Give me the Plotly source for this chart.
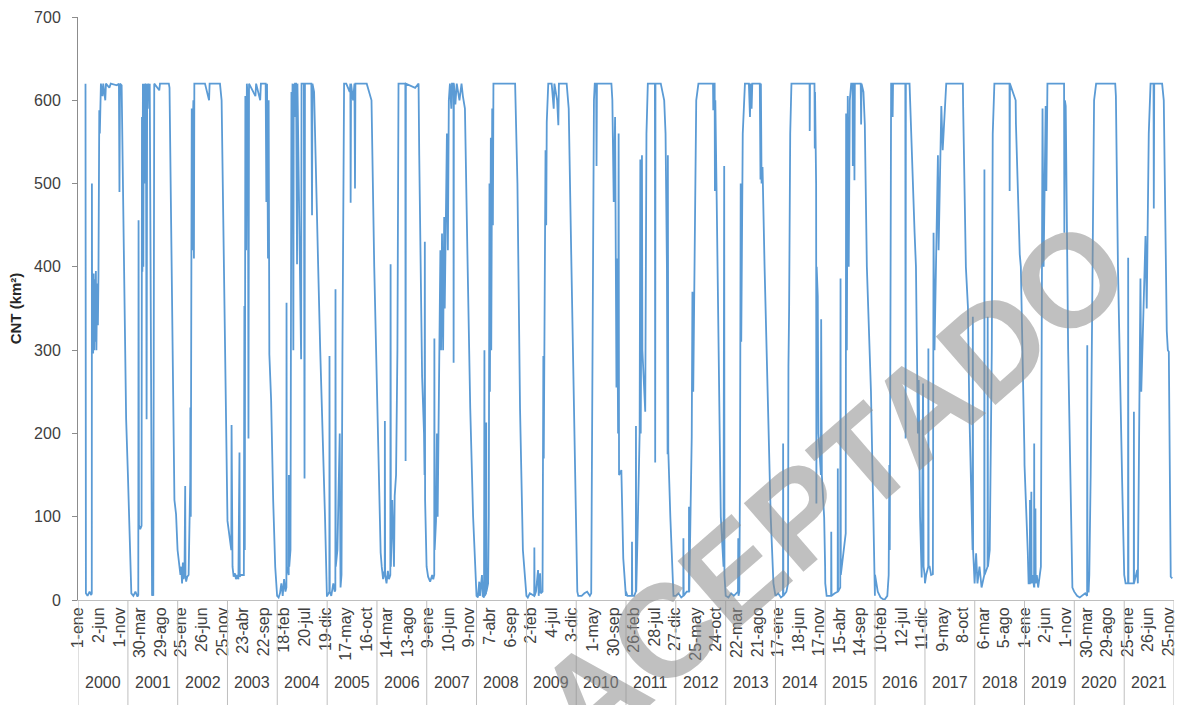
import datetime as dt
import plotly.graph_objects as go

# Snow-covered area (CNT, km2): (day offset from 1 Jan, value)
y2000 = [(55,620),(58,8),(70,5),(85,10),(97,6),(101,8),(102,500),(104,300),(108,390),(111,296),(115,392),(119,300),(123,385),(127,310),(131,395),(135,300),(140,380),(146,330),(150,390),(156,588),(160,560),(168,620),(180,605),(185,620),(200,600),(205,620),(230,615),(240,620),(285,618),(300,620),(304,490),(308,620),(320,618),(336,420),(353,217)]
y2001 = [(0,150),(17,32),(25,8),(40,5),(55,10),(70,4),(76,6),(78,456),(81,90),(90,85),(100,89),(103,580),(106,394),(110,620),(113,400),(116,620),(120,500),(124,620),(128,560),(132,620),(137,217),(141,620),(146,590),(150,620),(155,600),(160,620),(170,300),(177,5),(182,10),(186,5),(193,620),(230,612),(235,620),(300,620),(305,615),(341,120),(353,103),(364,60)]
y2002 = [(0,60),(12,45),(20,30),(26,40),(32,20),(38,45),(44,25),(50,35),(55,137),(57,30),(62,22),(70,28),(80,30),(92,143),(93,231),(96,100),(103,590),(106,420),(110,560),(115,600),(119,410),(122,620),(200,620),(230,600),(234,620),(310,620),(322,600),(340,400),(364,100)]
y2003 = [(0,95),(24,65),(28,60),(30,210),(32,60),(37,40),(45,28),(55,32),(62,25),(70,30),(80,25),(88,177),(90,28),(97,30),(120,30),(124,353),(127,60),(131,605),(137,420),(142,620),(150,600),(154,194),(158,620),(205,605),(210,620),(240,600),(245,620),(280,620),(285,478),(290,620),(297,410),(302,600),(307,295),(320,240),(335,120),(350,40),(364,5)]
y2004 = [(0,5),(10,3),(20,8),(30,20),(40,5),(50,25),(60,10),(67,15),(68,357),(70,40),(84,30),(85,150),(88,40),(97,60),(104,610),(108,520),(112,620),(118,300),(121,620),(126,580),(130,620),(138,620),(145,403),(148,620),(175,289),(178,620),(195,620),(200,146),(203,620),(220,620),(250,620),(255,462),(258,620),(270,610),(278,560),(285,520),(300,400),(315,300),(335,200),(350,100),(364,5)]
y2005 = [(0,5),(10,8),(16,10),(17,293),(19,10),(30,5),(45,20),(55,10),(60,12),(61,373),(63,40),(75,60),(85,180),(92,200),(98,15),(105,30),(112,300),(118,550),(124,620),(140,620),(165,610),(170,620),(172,477),(175,620),(190,600),(200,620),(204,494),(207,620),(290,620),(310,610),(325,600),(345,400),(364,255)]
y2006 = [(0,245),(10,170),(27,57),(35,40),(45,25),(55,35),(57,30),(58,215),(60,30),(70,20),(80,35),(88,25),(98,30),(100,403),(102,40),(112,120),(118,60),(125,40),(130,125),(140,150),(150,300),(158,620),(180,620),(208,620),(210,167),(212,620),(280,615),(305,620),(310,534),(320,400),(331,268),(345,200),(349,150),(351,430),(353,120),(364,40)]
y2007 = [(0,40),(10,28),(25,22),(40,30),(48,25),(55,30),(56,314),(58,60),(68,95),(75,200),(80,100),(90,230),(100,420),(105,300),(112,440),(120,300),(128,460),(132,350),(148,560),(155,420),(162,600),(170,620),(180,590),(185,620),(196,620),(197,285),(199,620),(210,595),(220,620),(240,600),(255,620),(265,605),(280,590),(300,400),(319,230),(340,100),(364,10)]
y2008 = [(0,5),(10,3),(20,22),(25,5),(40,30),(45,5),(55,3),(58,300),(60,5),(70,8),(71,213),(73,10),(85,20),(90,100),(95,500),(98,250),(105,555),(108,300),(115,590),(120,450),(124,620),(283,620),(300,500),(319,230),(340,60),(364,5)]
y2009 = [(0,5),(10,3),(25,8),(57,5),(58,63),(60,5),(70,10),(85,36),(90,5),(100,32),(105,8),(118,10),(124,293),(127,170),(140,540),(145,450),(149,574),(160,620),(185,620),(200,590),(205,620),(225,600),(234,570),(238,620),(295,620),(310,590),(330,400),(350,200),(364,90)]
y2010 = [(0,50),(8,10),(15,5),(40,5),(60,8),(80,10),(100,5),(110,8),(112,70),(120,300),(125,500),(130,600),(136,620),(146,620),(149,521),(152,620),(258,620),(265,600),(275,478),(285,580),(295,255),(300,410),(307,200),(311,560),(314,150),(331,156),(345,50),(364,5)]
y2011 = [(0,10),(10,5),(30,5),(43,5),(44,70),(46,5),(60,5),(72,10),(73,209),(75,10),(85,80),(100,200),(105,529),(108,200),(117,534),(120,300),(141,226),(145,400),(150,560),(160,620),(212,620),(214,165),(216,620),(255,620),(280,600),(290,560),(300,400),(305,175),(307,534),(310,180),(325,100),(348,5),(364,5)]
y2012 = [(0,5),(20,8),(40,3),(55,5),(56,74),(58,5),(80,10),(96,10),(97,112),(99,10),(117,196),(122,370),(128,250),(140,500),(150,600),(166,620),(273,620),(275,588),(278,620),(285,620),(287,491),(290,600),(300,480),(324,192),(330,100),(350,40),(355,521),(357,30),(364,5)]
y2013 = [(0,5),(20,3),(40,8),(60,5),(90,10),(92,74),(94,5),(100,10),(105,154),(110,500),(114,310),(125,560),(135,600),(141,620),(170,620),(178,580),(182,620),(190,590),(195,620),(250,620),(255,505),(258,620),(263,500),(270,520),(285,400),(312,230),(330,100),(350,20),(364,5)]
y2014 = [(0,5),(20,8),(40,3),(55,5),(56,188),(58,5),(80,10),(92,20),(95,280),(100,350),(108,560),(117,620),(250,620),(251,563),(253,620),(286,620),(288,542),(290,610),(298,500),(300,116),(302,400),(310,365),(315,200),(333,150),(335,337),(340,150),(357,99),(364,40)]
y2015 = [(0,20),(10,5),(30,5),(43,5),(44,82),(46,5),(70,8),(91,10),(92,158),(94,10),(110,15),(112,386),(114,30),(150,80),(153,584),(158,300),(165,605),(172,400),(180,600),(190,620),(200,620),(202,521),(205,620),(212,620),(214,504),(217,620),(260,620),(263,571),(266,620),(280,610),(290,571),(305,400),(335,251),(360,66),(364,5)]
y2016 = [(0,30),(20,10),(40,3),(68,0),(90,5),(100,30),(105,162),(108,60),(113,400),(118,620),(127,620),(129,580),(132,620),(222,620),(224,194),(226,620),(253,620),(275,496),(290,441),(300,400),(314,200),(320,264),(330,100),(342,27),(352,260),(356,40),(364,30)]
y2017 = [(0,20),(10,31),(24,40),(25,302),(27,40),(34,40),(45,30),(58,31),(63,441),(70,300),(95,534),(100,420),(120,593),(130,540),(156,620),(278,620),(280,592),(300,400),(315,352),(325,230),(349,60),(351,340),(353,60),(364,20)]
y2018 = [(0,20),(10,56),(20,20),(35,40),(50,15),(70,30),(71,517),(72,30),(94,40),(95,340),(97,40),(110,60),(125,300),(132,560),(144,620),(255,620),(256,491),(258,620),(300,600),(302,572),(330,415),(338,400),(364,180)]
y2019 = [(0,162),(24,57),(30,20),(39,20),(40,120),(45,20),(50,130),(52,20),(60,30),(70,15),(71,188),(72,15),(80,110),(82,20),(90,30),(100,15),(120,40),(132,590),(140,400),(155,593),(160,491),(168,620),(290,620),(292,441),(296,600),(302,593),(320,300),(335,141),(351,15),(364,10)]
y2020 = [(0,10),(20,5),(40,3),(60,5),(80,8),(94,5),(95,306),(97,10),(105,10),(110,30),(120,150),(132,400),(145,600),(160,620),(300,620),(305,605),(320,400),(351,141),(364,32)]
y2021 = [(0,30),(10,20),(28,20),(29,411),(31,20),(70,20),(71,226),(72,20),(95,36),(100,20),(119,386),(125,250),(156,437),(165,350),(180,560),(193,620),(215,620),(217,470),(220,620),(278,620),(290,600),(312,323),(320,300),(327,298),(341,28),(352,26)]

years = list(range(2000, 2022))
series = [y2000, y2001, y2002, y2003, y2004, y2005, y2006, y2007, y2008, y2009, y2010,
          y2011, y2012, y2013, y2014, y2015, y2016, y2017, y2018, y2019, y2020, y2021]

tick_dates = ["2000-01-01","2000-06-02","2000-11-01","2001-03-30","2001-08-29","2002-01-25","2002-06-26","2002-11-25",
              "2003-04-23","2003-09-22","2004-02-18","2004-07-20","2004-12-19","2005-05-17","2005-10-16","2006-03-14",
              "2006-08-13","2007-01-09","2007-06-10","2007-11-09","2008-04-07","2008-09-06","2009-02-02","2009-07-04",
              "2009-12-03","2010-05-01","2010-09-30","2011-02-26","2011-07-28","2011-12-27","2012-05-25","2012-10-24",
              "2013-03-22","2013-08-21","2014-01-17","2014-06-18","2014-11-17","2015-04-15","2015-09-14","2016-02-10",
              "2016-07-12","2016-12-11","2017-05-09","2017-10-08","2018-03-06","2018-08-05","2019-01-01","2019-06-02",
              "2019-11-01","2020-03-30","2020-08-29","2021-01-25","2021-06-26","2021-11-25"]
meses = ["ene","feb","mar","abr","may","jun","jul","ago","sep","oct","nov","dic"]

dates, vals = [], []
for yr, pts in zip(years, series):
    base = dt.date(yr, 1, 1)
    for d, v in pts:
        dates.append(base + dt.timedelta(days=d))
        vals.append(v)

tick_text = []
for s in tick_dates:
    d = dt.date.fromisoformat(s)
    tick_text.append(f"{d.day}-{meses[d.month-1]}")

fig = go.Figure()
fig.add_trace(go.Scatter(x=dates, y=vals, mode="lines",
                         line=dict(color="#5B9BD5", width=1.8), hoverinfo="skip"))

FONT = "Liberation Sans, Arial, sans-serif"
bottom = -105/583
shapes = []
for yr in years + [2022]:
    shapes.append(dict(type="line", xref="x", yref="paper", x0=f"{yr}-01-01", x1=f"{yr}-01-01",
                       y0=0, y1=bottom, line=dict(color="#BFBFBF", width=1)))
annotations = []
for yr in years:
    annotations.append(dict(x=f"{yr}-07-02", y=-0.142, xref="x", yref="paper", text=str(yr),
                            showarrow=False, font=dict(family=FONT, size=16, color="#404040"),
                            xanchor="center", yanchor="middle"))
annotations.append(dict(x=0.688, y=0.195, xref="paper", yref="paper", text="<b>ACEPTADO</b>", showarrow=False,
                        textangle=-41, xanchor="center", yanchor="middle",
                        font=dict(family=FONT, size=132, color="rgba(140,140,140,0.55)")))

fig.update_layout(
    width=1185, height=705,
    margin=dict(l=78, r=8, t=17, b=105),
    paper_bgcolor="white", plot_bgcolor="white",
    showlegend=False,
    shapes=shapes, annotations=annotations,
    xaxis=dict(type="date", range=["2000-01-01", "2022-01-01"], tickmode="array",
               tickvals=tick_dates, ticktext=tick_text, tickangle=-90, ticks="",
               tickfont=dict(family=FONT, size=16, color="#404040"),
               showline=True, linecolor="#BFBFBF", linewidth=1, showgrid=False, zeroline=False),
    yaxis=dict(range=[0, 700], dtick=100, tick0=0, showgrid=False, zeroline=False,
               showline=True, linecolor="#8C8C8C", linewidth=1, ticks="outside", ticklen=5,
               tickcolor="#8C8C8C", ticklabelstandoff=8,
               tickfont=dict(family=FONT, size=16, color="#404040"),
               title=dict(text="<b>CNT (km²)</b>", font=dict(family=FONT, size=15, color="#262626"),
                          standoff=8)),
)
fig.write_html("out.html")
